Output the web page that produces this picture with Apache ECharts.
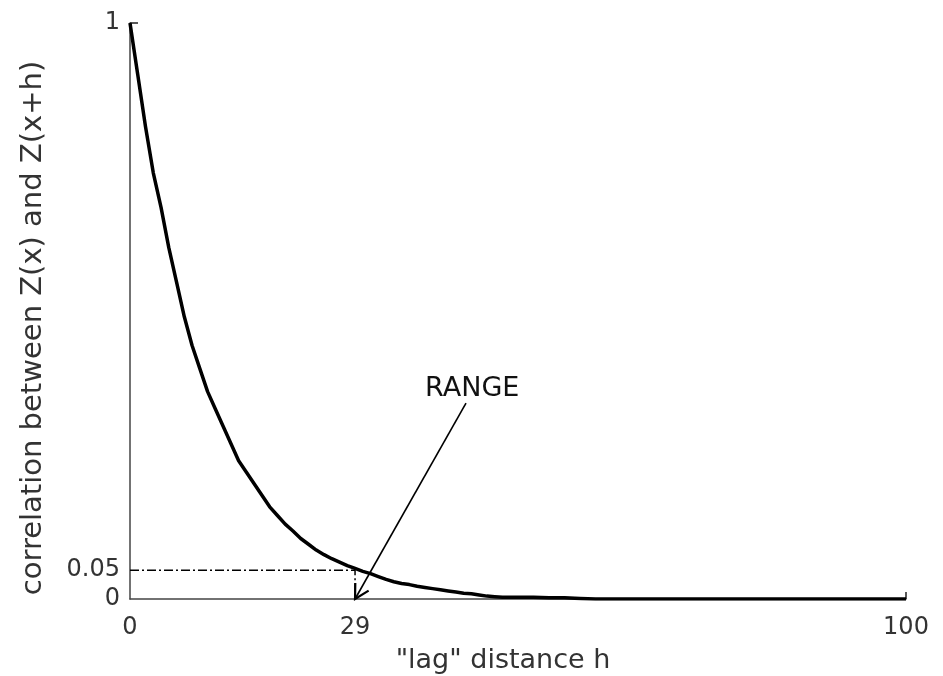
<!DOCTYPE html>
<html>
<head>
<meta charset="utf-8">
<script src="https://cdn.jsdelivr.net/npm/echarts@6/dist/echarts.min.js"></script>
<style>html,body{margin:0;padding:0;background:#fff}#c{width:943px;height:676px}</style>
</head>
<body>
<div id="c"></div>
<script>
// lag distance h
var lagH = [0,1,2,3,4,5,6,7,8,9,10,11,12,13,14,15,16,17,18,19,20,21,22,23,24,25,26,27,28,29,30,31,32,33,34,35,36,37,38,39,40,41,42,43,44,45,46,47,48,49,50,52,54,56,58,60,100];
// correlation between Z(x) and Z(x+h)
var corr = [1.00,0.91,0.82,0.74,0.68,0.61,0.55,0.49,0.44,0.40,0.36,0.33,0.30,0.27,0.24,0.22,0.20,0.18,0.16,0.145,0.13,0.118,0.105,0.095,0.085,0.077,0.070,0.064,0.058,0.053,0.048,0.044,0.039,0.034,0.030,0.027,0.025,0.022,0.020,0.018,0.016,0.014,0.012,0.010,0.009,0.007,0.005,0.004,0.003,0.003,0.003,0.003,0.002,0.002,0.001,0,0];
var xTickLabels = [0, 29, 100];
var yTickLabels = [0, 0.05, 1];
var rangeGuideX = [0, 29, 29];
var rangeGuideY = [0.05, 0.05, 0];
var arrowFrom = [43.3, 0.34];
var arrowTo = [29, 0];
var rangeLabelPos = [44.1, 0.365];
var rangeLabel = 'RANGE';

var curveData = lagH.map(function (h, i) { return [h, corr[i]]; });
var guideData = rangeGuideX.map(function (x, i) { return [x, rangeGuideY[i]]; });

var chart = echarts.init(document.getElementById('c'), null, {renderer: 'canvas'});
var font = 'DejaVu Sans';
chart.setOption({
  animation: false,
  backgroundColor: '#fff',
  grid: {left: 130, right: 37, top: 23, bottom: 77, containLabel: false, outerBoundsMode: 'none'},
  xAxis: {
    type: 'value', min: 0, max: 100,
    name: '"lag" distance h', nameLocation: 'middle', nameGap: 48,
    nameTextStyle: {fontFamily: font, fontSize: 27, color: '#333', padding: [0, 30, 0, 0]},
    axisLine: {lineStyle: {color: '#444', width: 1.5}},
    axisTick: {show: true, inside: true, length: 7, customValues: [100], lineStyle: {color: '#222', width: 1.5}},
    axisLabel: {customValues: xTickLabels, fontFamily: font, fontSize: 24, color: '#333', margin: 17,
      formatter: function (v) { return String(v); }},
    splitLine: {show: false}
  },
  yAxis: {
    type: 'value', min: 0, max: 1,
    name: 'correlation between Z(x) and Z(x+h)', nameLocation: 'middle', nameGap: 82,
    nameTextStyle: {fontFamily: font, fontSize: 29, color: '#333', padding: [0, 34, 0, 0]},
    axisLine: {lineStyle: {color: '#444', width: 1.5}},
    axisTick: {show: true, inside: true, length: 8, customValues: [1], lineStyle: {color: '#222', width: 1.5}},
    axisLabel: {customValues: yTickLabels, fontFamily: font, fontSize: 24, color: '#333', margin: 10,
      formatter: function (v) { return String(v); }},
    splitLine: {show: false}
  },
  series: [
    {
      type: 'line', data: curveData, symbol: 'none', silent: true,
      lineStyle: {color: '#000', width: 3.5, join: 'round'}, z: 3
    },
    {
      type: 'line', data: guideData, symbol: 'none', silent: true,
      lineStyle: {color: '#000', width: 1.5, type: [9, 3, 2, 3]}, z: 2
    },
    {
      type: 'custom', silent: true, z: 4,
      data: [[0]],
      renderItem: function (params, api) {
        var p0 = api.coord(arrowFrom);
        var p1 = api.coord(arrowTo);
        var lp = api.coord(rangeLabelPos);
        var ang = Math.atan2(p0[1] - p1[1], p0[0] - p1[0]);
        var L = 16, a = 0.5;
        var w1 = [p1[0] + L * Math.cos(ang + a), p1[1] + L * Math.sin(ang + a)];
        var w2 = [p1[0] + L * Math.cos(ang - a), p1[1] + L * Math.sin(ang - a)];
        return {
          type: 'group',
          children: [
            {type: 'line', shape: {x1: p0[0], y1: p0[1], x2: p1[0], y2: p1[1]}, style: {stroke: '#000', lineWidth: 1.6, fill: null}},
            {type: 'polyline', shape: {points: [w1, p1, w2]}, style: {stroke: '#000', lineWidth: 2.2, fill: null}},
            {type: 'text', x: lp[0], y: lp[1], style: {text: rangeLabel, fontFamily: font, fontSize: 27, fill: '#111', align: 'center', verticalAlign: 'middle'}}
          ]
        };
      }
    }
  ]
});
</script>
</body>
</html>
